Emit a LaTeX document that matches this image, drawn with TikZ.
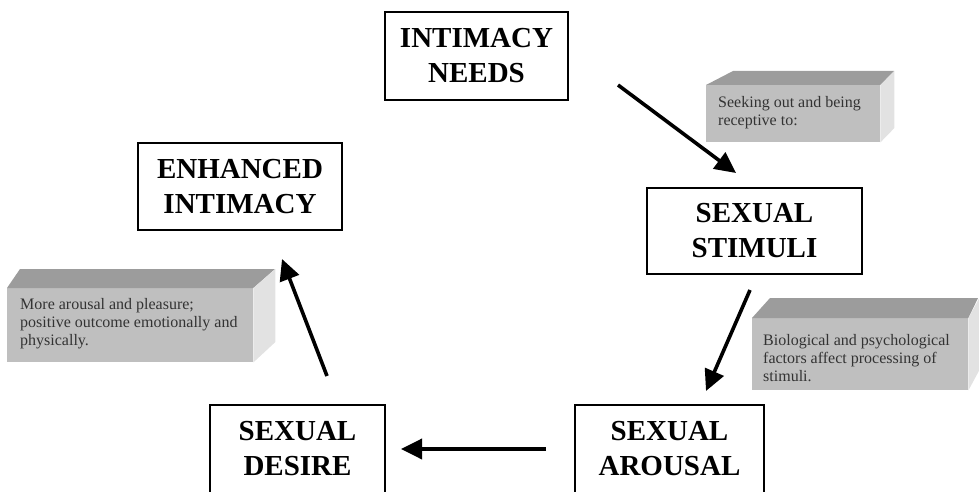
\documentclass[tikz,border=0pt]{standalone}
\usepackage{fontspec}
\setmainfont{Liberation Serif}
\usetikzlibrary{arrows.meta}
\definecolor{gfront}{HTML}{BFBFBF}
\definecolor{gtop}{HTML}{9C9C9C}
\definecolor{gside}{HTML}{E2E2E2}
\definecolor{gtxt}{HTML}{333333}
\begin{document}
\begin{tikzpicture}[x=1pt,y=-1pt,
  mainbox/.style={draw=black,line width=2.4pt,fill=white,align=center,inner sep=0pt,
    font=\bfseries\fontsize{29}{35}\selectfont},
  front/.style={fill=gfront,draw=none,inner sep=0pt,anchor=north west},
  topface/.style={fill=gtop},
  sideface/.style={fill=gside},
  gtext/.style={text=gtxt,align=left,inner sep=0pt,anchor=north west,
    font=\fontsize{16}{18}\selectfont},
  arr/.style={line width=3.6pt,-{Triangle[length=21pt,width=20pt]}}
]
\useasboundingbox (0,0) rectangle (979,492);

% main boxes
\node[mainbox,minimum width=183pt,minimum height=88pt] (needs) at (476.5,56) {INTIMACY\\NEEDS};
\node[mainbox,minimum width=204pt,minimum height=87pt] (enh) at (240,186.5) {ENHANCED\\INTIMACY};
\node[mainbox,minimum width=215pt,minimum height=86pt] (stim) at (754.5,231) {SEXUAL\\STIMULI};
\node[mainbox,minimum width=189pt,minimum height=88pt] (arou) at (669.5,449) {SEXUAL\\AROUSAL};
\node[mainbox,minimum width=175pt,minimum height=88pt] (des) at (297.5,449) {SEXUAL\\DESIRE};

% gray 3D box: seeking
\node[front,minimum width=174pt,minimum height=57pt] (g1) at (706,85) {};
\fill[topface] (g1.north west) -- ++(27,-14) -- ++(161,0) -- (g1.north east) -- cycle;
\fill[sideface] (g1.north east) -- ++(14,-14) -- ++(0,57) -- (g1.south east) -- cycle;
\node[gtext] (t1) at (718,96) {Seeking out and being\\receptive to:};

% gray 3D box: more arousal
\node[front,minimum width=246pt,minimum height=74pt] (g2) at (7,288) {};
\fill[topface] (g2.north west) -- ++(13,-19) -- ++(255,0) -- (g2.north east) -- cycle;
\fill[sideface] (g2.north east) -- ++(22,-19) -- ++(0,73) -- (g2.south east) -- cycle;
\node[gtext] (t2) at (20,298) {More arousal and pleasure;\\positive outcome emotionally and\\physically.};

% gray 3D box: biological
\node[front,minimum width=216pt,minimum height=72pt] (g3) at (752,318) {};
\fill[topface] (g3.north west) -- ++(18,-20) -- ++(208,0) -- (g3.north east) -- cycle;
\fill[sideface] (g3.north east) -- ++(11,-20) -- ++(0,72) -- (g3.south east) -- cycle;
\node[gtext] (t3) at (763,334) {Biological and psychological\\factors affect processing of\\stimuli.};

% arrows
\coordinate (a1s) at (618,85);  \coordinate (a1e) at (736,173);
\coordinate (a2s) at (750,290); \coordinate (a2e) at (706,391);
\coordinate (a3s) at (546,449); \coordinate (a3e) at (401,449);
\coordinate (a4s) at (327,376); \coordinate (a4e) at (282,259);
\draw[arr] (a1s) -- (a1e);
\draw[arr] (a2s) -- (a2e);
\draw[arr] (a3s) -- (a3e);
\draw[arr] (a4s) -- (a4e);
\end{tikzpicture}
\end{document}
